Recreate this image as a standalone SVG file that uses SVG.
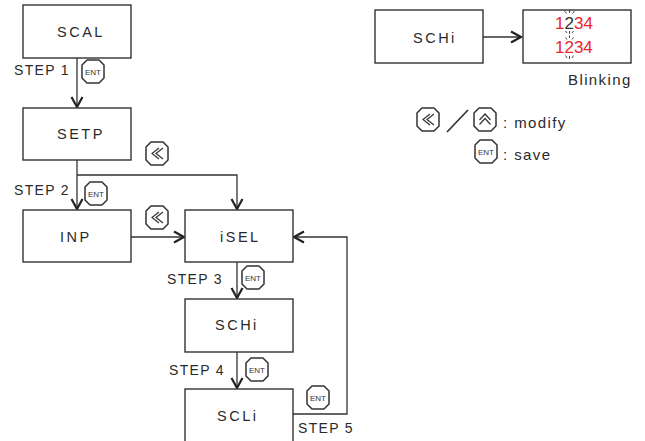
<svg xmlns="http://www.w3.org/2000/svg" xmlns:xlink="http://www.w3.org/1999/xlink" width="645" height="441" viewBox="0 0 645 441">
<style>
.box{fill:#fff;stroke:#333;stroke-width:1.4}
.lbl{font-family:"Liberation Sans",Arial,sans-serif;font-size:14.5px;fill:#2a2a2a;letter-spacing:2.5px}
.step{font-family:"Liberation Sans",Arial,sans-serif;font-size:14px;fill:#2a2a2a;letter-spacing:1.3px}
.note{font-family:"Liberation Sans",Arial,sans-serif;font-size:15px;fill:#2a2a2a;letter-spacing:1.4px}
.ln{fill:none;stroke:#333;stroke-width:1.3}
.ah{fill:none;stroke:#222;stroke-width:2.2;stroke-linejoin:miter}
.btn{fill:#fff;stroke:#333;stroke-width:1.5;stroke-linejoin:round}
.ic{fill:none;stroke:#333;stroke-width:1.2}
.ent{font-family:"Liberation Sans",Arial,sans-serif;font-size:8px;fill:#333;text-anchor:middle}
.red{font-family:"Liberation Sans",Arial,sans-serif;font-size:17px;fill:#e8262a}
.spk{fill:none;stroke:#444;stroke-width:1}
</style>
<defs>
<path id="oct" class="btn" d="M5,0 H17 L22,5 V18 L17,23 H5 L0,18 V5 Z"/>
<g id="entb"><use xlink:href="#oct"/><text class="ent" x="11" y="14.8">ENT</text></g>
<g id="leftb"><use xlink:href="#oct"/><polyline class="ic" points="13,6 6,11.5 13,17"/><polyline class="ic" points="17,6 10,11.5 17,17"/></g>
<g id="upb"><use xlink:href="#oct"/><polyline class="ic" points="5.5,12 11,6 16.5,12"/><polyline class="ic" points="5.5,16.5 11,10.5 16.5,16.5"/></g>
</defs>

<g id="connectors">
<line class="ln" x1="77" y1="58" x2="77" y2="107"/>
<polyline class="ah" points="71.5,97 77,107 82.5,97"/>
<line class="ln" x1="77" y1="160" x2="77" y2="209"/>
<polyline class="ah" points="71.5,199 77,209 82.5,199"/>
<polyline class="ln" points="77,175 237,175 237,209"/>
<polyline class="ah" points="231.5,199 237,209 242.5,199"/>
<line class="ln" x1="131" y1="237" x2="184" y2="237"/>
<polyline class="ah" points="174,231.5 184,237 174,242.5"/>
<line class="ln" x1="237" y1="262" x2="237" y2="298"/>
<polyline class="ah" points="231.5,288 237,298 242.5,288"/>
<line class="ln" x1="237" y1="352" x2="237" y2="388"/>
<polyline class="ah" points="231.5,378 237,388 242.5,378"/>
<polyline class="ln" points="293,414 347,414 347,237 294,237"/>
<polyline class="ah" points="304,231.5 294,237 304,242.5"/>
<line class="ln" x1="483" y1="37" x2="521" y2="37"/>
<polyline class="ah" points="511,31.5 521,37 511,42.5"/>
<line x1="447" y1="132" x2="468" y2="110" stroke="#333" stroke-width="1.7"/>
</g>

<g id="n-scal"><rect class="box" x="23" y="5" width="108" height="53"/><text class="lbl" x="57" y="37">SCAL</text></g>
<g id="n-setp"><rect class="box" x="23" y="108" width="108" height="52"/><text class="lbl" x="57" y="139">SETP</text></g>
<g id="n-inp"><rect class="box" x="23" y="210" width="108" height="52"/><text class="lbl" x="60" y="242">INP</text></g>
<g id="n-isel"><rect class="box" x="185" y="210" width="108" height="52"/><text class="lbl" x="220" y="242">iSEL</text></g>
<g id="n-schi"><rect class="box" x="185" y="299" width="108" height="53"/><text class="lbl" x="215" y="330">SCHi</text></g>
<g id="n-scli"><rect class="box" x="185" y="389" width="108" height="60"/><text class="lbl" x="217" y="421">SCLi</text></g>
<g id="n-schi2"><rect class="box" x="375" y="10" width="108" height="53"/><text class="lbl" x="413" y="43">SCHi</text></g>
<g id="n-display">
<rect class="box" x="523" y="10" width="108" height="53"/>
<text class="red" x="555" y="29">1<tspan fill="#333">2</tspan>34</text>
<text class="red" x="555" y="53">1234</text>
<g class="spk">
<line x1="569.5" y1="10" x2="569.5" y2="13"/><line x1="564.5" y1="11" x2="566.5" y2="13.5"/><line x1="574.5" y1="11" x2="572.5" y2="13.5"/>
<line x1="569.5" y1="31" x2="569.5" y2="34"/><line x1="565.5" y1="31" x2="567" y2="33"/><line x1="573.5" y1="31" x2="572" y2="33"/>
<line x1="569.5" y1="35.5" x2="569.5" y2="38"/><line x1="565.5" y1="37.5" x2="567" y2="39.5"/><line x1="573.5" y1="37.5" x2="572" y2="39.5"/>
<line x1="569.5" y1="56" x2="569.5" y2="59"/><line x1="565.5" y1="55.5" x2="567" y2="58"/><line x1="573.5" y1="55.5" x2="572" y2="58"/>
</g>
</g>

<g id="labels">
<text class="step" x="14" y="75">STEP 1</text>
<text class="step" x="14" y="195">STEP 2</text>
<text class="step" x="167" y="284">STEP 3</text>
<text class="step" x="169" y="375">STEP 4</text>
<text class="step" x="298" y="433">STEP 5</text>
<text class="note" x="568" y="85">Blinking</text>
<text class="note" x="503" y="128">: modify</text>
<text class="note" x="503" y="160">: save</text>
</g>

<g id="buttons">
<use xlink:href="#entb" x="82" y="60"/>
<use xlink:href="#leftb" x="146" y="142"/>
<use xlink:href="#entb" x="85" y="182"/>
<use xlink:href="#leftb" x="146" y="206"/>
<use xlink:href="#entb" x="242" y="266"/>
<use xlink:href="#entb" x="246" y="358"/>
<use xlink:href="#entb" x="307" y="386"/>
<use xlink:href="#leftb" x="417" y="108"/>
<use xlink:href="#upb" x="474" y="108"/>
<use xlink:href="#entb" x="475" y="140"/>
</g>
</svg>
